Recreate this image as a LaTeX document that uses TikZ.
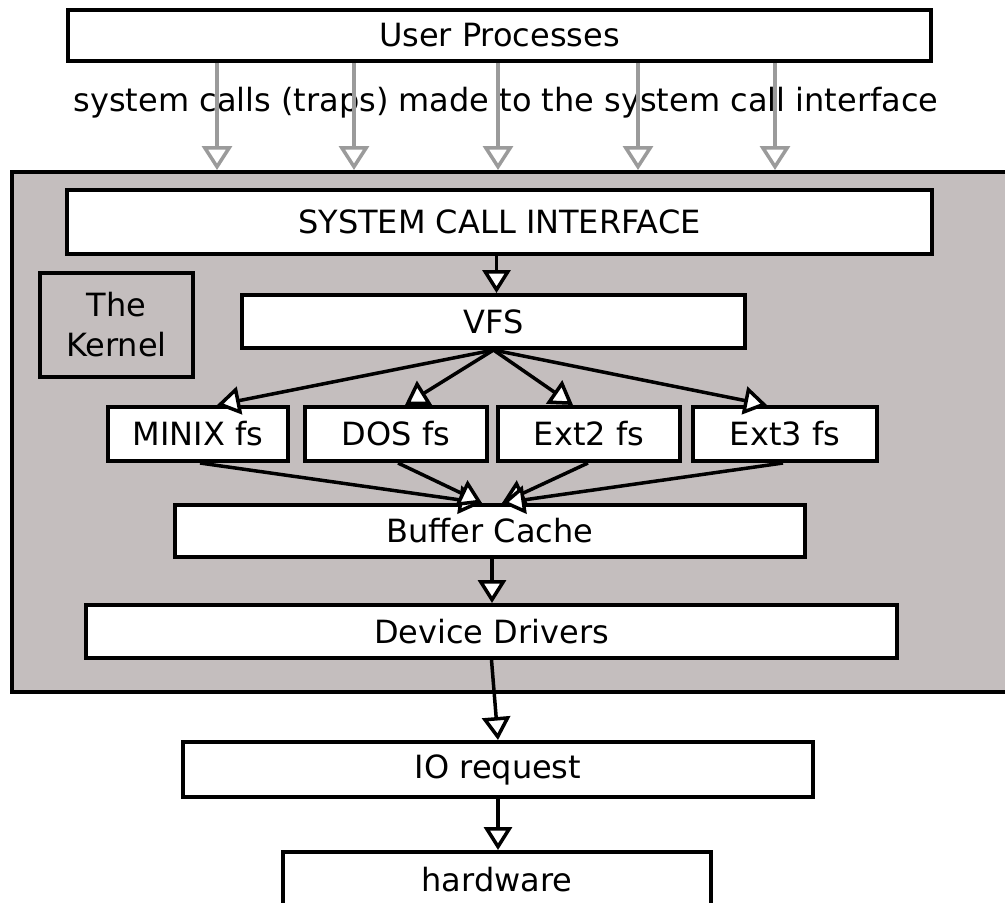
\documentclass[tikz,border=0pt]{standalone}
\usepackage{fontspec}
\setmainfont{DejaVu Sans}
\usetikzlibrary{arrows.meta}
\definecolor{kgray}{RGB}{196,190,190}
\definecolor{agray}{RGB}{155,155,155}
\tikzset{
  box/.style={draw=black, line width=4pt, fill=white, inner sep=0pt,
    font=\fontsize{32}{40}\selectfont},
  arr/.style={draw=black, line width=3.5pt,
    -{Triangle[length=23pt,width=28pt,fill=white]}},
  garr/.style={draw=agray, line width=3.5pt,
    -{Triangle[length=24pt,width=30pt,fill=white]}},
}
\begin{document}
\begin{tikzpicture}[x=1pt,y=-1pt]
\useasboundingbox (0,0) rectangle (1005,903);
\clip (0,0) rectangle (1005,903);
\fill[white] (0,0) rectangle (1005,903);

% kernel area
\node[box, fill=kgray, minimum width=998pt, minimum height=520pt] (kernel) at (511,432) {};

% user processes
\node[box, minimum width=863pt, minimum height=51pt] (user) at (499.5,35.5) {User Processes};
\node[font=\fontsize{32}{40}\selectfont, inner sep=0pt] (lbl) at (506,103) {system calls (traps) made to the system call interface};

\foreach \x in {217,354,498,638,775}{
  \draw[garr] (user.south -| \x,0) -- (kernel.north -| \x,0);
}

% inside kernel
\node[box, minimum width=865pt, minimum height=64pt] (sci) at (499.5,222) {SYSTEM CALL INTERFACE};
\node[box, fill=kgray, minimum width=153pt, minimum height=104pt, align=center] (thek) at (116.5,325) {The\\Kernel};
\node[box, minimum width=503pt, minimum height=53pt] (vfs) at (493.5,321.5) {VFS};

\node[box, minimum width=180pt, minimum height=54pt] (minix) at (198,434) {MINIX fs};
\node[box, minimum width=182pt, minimum height=54pt] (dos) at (396,434) {DOS fs};
\node[box, minimum width=182pt, minimum height=54pt] (ext2) at (589,434) {Ext2 fs};
\node[box, minimum width=184pt, minimum height=54pt] (ext3) at (785,434) {Ext3 fs};

\node[box, minimum width=630pt, minimum height=52pt] (buf) at (490,531) {Buffer Cache};
\node[box, minimum width=811pt, minimum height=53pt] (dd) at (491.5,631.5) {Device Drivers};

% outside kernel
\node[box, minimum width=630pt, minimum height=55pt] (io) at (498,769.5) {IO request};
\node[box, minimum width=428pt, minimum height=56pt] (hw) at (497,880) {hardware};

% connectors
\draw[arr] ([xshift=3pt]vfs.north |- sci.south) -- ([xshift=3pt]vfs.north);
\draw[arr] (vfs.south) -- ([xshift=19pt]minix.north);
\draw[arr] (vfs.south) -- ([xshift=9pt]dos.north);
\draw[arr] (vfs.south) -- ([xshift=-16pt]ext2.north);
\draw[arr] (vfs.south) -- ([xshift=-18pt]ext3.north);

\draw[arr] ([xshift=2pt]minix.south) -- ([xshift=-8pt]buf.north);
\draw[arr] ([xshift=2pt]dos.south) -- ([xshift=-8pt]buf.north);
\draw[arr] ([xshift=-1pt]ext2.south) -- ([xshift=12pt]buf.north);
\draw[arr] ([xshift=-2pt]ext3.south) -- ([xshift=12pt]buf.north);

\draw[arr] ([xshift=2pt]buf.south) -- ([xshift=2pt]buf.south |- dd.north);
\draw[arr] (dd.south) -- (io.north);
\draw[arr] (io.south) -- (io.south |- hw.north);
\end{tikzpicture}
\end{document}
